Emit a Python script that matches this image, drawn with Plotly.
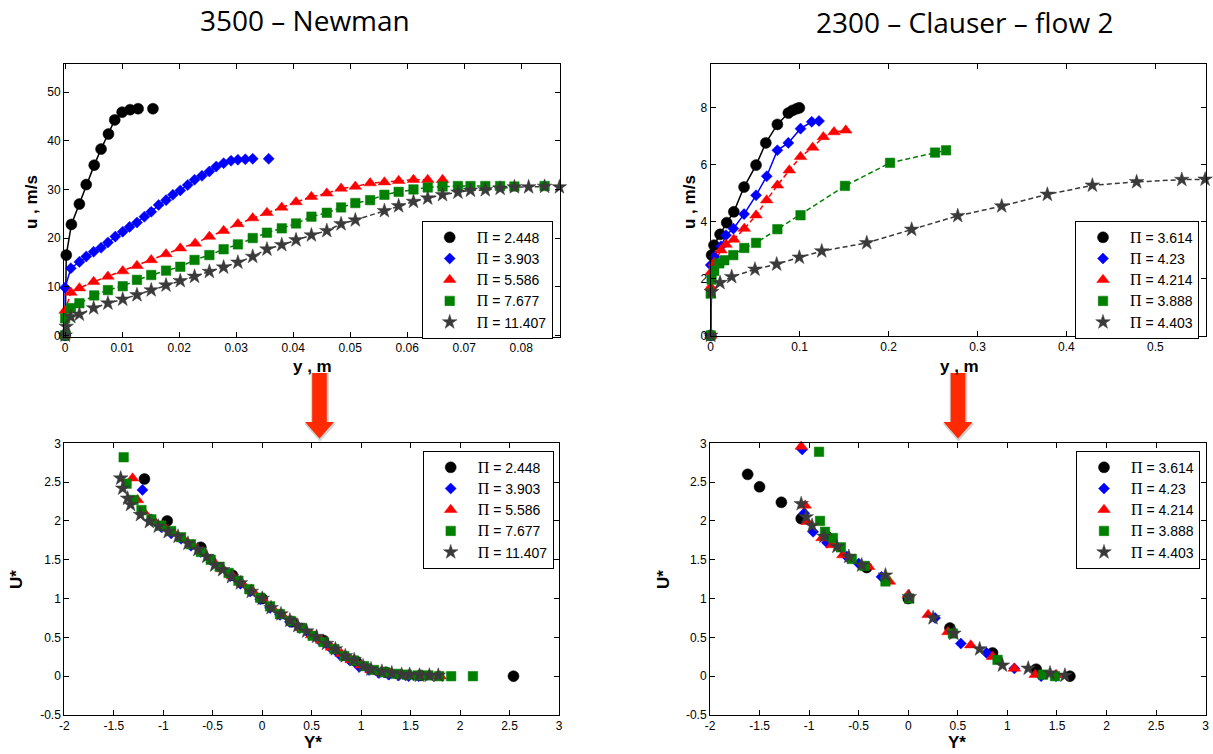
import plotly.graph_objects as go

W, H = 1213, 754

# ---------------- data ----------------
# legend values
pi_newman = ["2.448", "3.903", "5.586", "7.677", "11.407"]
pi_clauser = ["3.614", "4.23", "4.214", "3.888", "4.403"]

# top-left: 3500 - Newman, y [m] vs u [m/s]
newman_y_1 = [0, 0.0002, 0.0011, 0.0025, 0.0037, 0.0051, 0.0063, 0.0076, 0.0087, 0.0100, 0.0114, 0.0128, 0.0154]
newman_u_1 = [0, 16.5, 22.8, 27.0, 31.0, 35.0, 38.3, 41.4, 44.3, 45.9, 46.4, 46.6, 46.6]
newman_y_2 = [0, 0, 0.0010, 0.0025, 0.0037, 0.0050, 0.0063, 0.0075, 0.0088, 0.0101, 0.0113, 0.0126, 0.0139, 0.0151,
              0.0164, 0.0177, 0.0189, 0.0202, 0.0215, 0.0227, 0.0240, 0.0253, 0.0265, 0.0278, 0.0291, 0.0303, 0.0316,
              0.0329, 0.0357]
newman_u_2 = [0, 9.8, 13.8, 15.1, 16.2, 17.2, 18.0, 19.1, 20.3, 21.3, 22.3, 23.2, 24.4, 25.4, 26.8, 27.8, 28.9, 29.8,
              30.9, 32.0, 32.8, 33.7, 34.7, 35.4, 35.9, 36.1, 36.2, 36.3, 36.3]
newman_y_3 = [0, 0, 0.0010, 0.0025, 0.0050, 0.0075, 0.0101, 0.0126, 0.0151, 0.0177, 0.0202, 0.0228, 0.0253, 0.0278,
              0.0303, 0.0329, 0.0354, 0.0380, 0.0405, 0.0432, 0.0459, 0.0484, 0.0509, 0.0535, 0.0560, 0.0585, 0.0611,
              0.0636, 0.0662]
newman_u_3 = [0, 5.1, 8.8, 9.7, 11.0, 12.1, 13.2, 14.3, 15.5, 16.7, 17.9, 18.9, 20.3, 21.5, 22.9, 24.1, 25.2, 26.3,
              27.4, 28.5, 29.2, 30.2, 30.6, 31.3, 31.5, 31.8, 32.0, 32.0, 32.0]
newman_y_4 = [0, 0, 0.0010, 0.0025, 0.0051, 0.0075, 0.0101, 0.0126, 0.0151, 0.0177, 0.0202, 0.0227, 0.0253, 0.0278,
              0.0303, 0.0329, 0.0354, 0.0380, 0.0405, 0.0432, 0.0459, 0.0484, 0.0509, 0.0535, 0.0560, 0.0585, 0.0611,
              0.0636, 0.0662, 0.0689, 0.0711, 0.0737, 0.0763, 0.0788, 0.0841]
newman_u_4 = [0, 3.5, 5.6, 6.6, 8.2, 9.3, 10.1, 11.4, 12.4, 13.3, 14.1, 15.5, 16.5, 17.7, 18.7, 20.0, 21.1, 22.0, 23.0,
              24.4, 25.2, 26.3, 27.2, 27.8, 28.9, 29.5, 30.0, 30.4, 30.6, 30.7, 30.7, 30.7, 30.7, 30.6, 30.7]
newman_y_5 = [0, 0.0002, 0.0010, 0.0025, 0.0050, 0.0075, 0.0101, 0.0126, 0.0151, 0.0177, 0.0202, 0.0227, 0.0253,
              0.0278, 0.0303, 0.0329, 0.0354, 0.0380, 0.0405, 0.0432, 0.0459, 0.0484, 0.0509, 0.0560, 0.0585, 0.0611,
              0.0636, 0.0662, 0.0689, 0.0711, 0.0737, 0.0763, 0.0788, 0.0813, 0.0841, 0.0867]
newman_u_5 = [0, 1.8, 3.8, 4.3, 5.6, 6.6, 7.4, 8.3, 9.3, 10.3, 11.2, 12.1, 13.1, 14.0, 15.0, 16.2, 17.7, 18.6, 19.6,
              20.6, 21.5, 22.9, 23.7, 25.6, 26.6, 27.5, 28.2, 28.9, 29.4, 29.8, 29.9, 30.2, 30.5, 30.5, 30.6, 30.5]

# top-right: 2300 - Clauser - flow 2
clauser_y_1 = [0, 0.001, 0.0037, 0.0105, 0.018, 0.026, 0.0375, 0.051, 0.062, 0.075, 0.0873, 0.092, 0.0967, 0.0997]
clauser_u_1 = [0, 2.82, 3.17, 3.55, 3.96, 4.34, 5.21, 5.98, 6.76, 7.41, 7.81, 7.90, 7.96, 7.99]
clauser_y_2 = [0, 0, 0.004, 0.0116, 0.0172, 0.0255, 0.0375, 0.051, 0.063, 0.075, 0.0873, 0.101, 0.1136, 0.1218]
clauser_u_2 = [0, 2.47, 2.76, 3.13, 3.52, 3.75, 4.26, 4.92, 5.59, 6.50, 6.76, 7.26, 7.50, 7.53]
clauser_y_3 = [0, 0, 0.0005, 0.004, 0.0116, 0.0172, 0.026, 0.0378, 0.051, 0.063, 0.075, 0.0884, 0.101, 0.1147,
               0.1267, 0.1387, 0.1519]
clauser_u_3 = [0, 1.70, 2.23, 2.55, 2.99, 3.19, 3.37, 3.75, 4.22, 4.75, 5.27, 5.80, 6.27, 6.60, 6.97, 7.14, 7.20]
clauser_y_4 = [0, 0, 0.001, 0.004, 0.0097, 0.0153, 0.0254, 0.0378, 0.051, 0.075, 0.101, 0.151, 0.2017, 0.2523, 0.2647]
clauser_u_4 = [0, 1.47, 1.96, 2.27, 2.53, 2.64, 2.82, 3.07, 3.25, 3.73, 4.22, 5.25, 6.06, 6.42, 6.50]
clauser_y_5 = [0, 0.001, 0.0105, 0.0236, 0.0498, 0.0742, 0.0997, 0.1249, 0.1755, 0.226, 0.2778, 0.3273, 0.3786,
               0.4292, 0.479, 0.5298, 0.556]
clauser_u_5 = [0, 1.53, 1.85, 2.06, 2.32, 2.50, 2.74, 2.96, 3.25, 3.72, 4.20, 4.54, 4.95, 5.27, 5.39, 5.47, 5.48]

# bottom-left: Newman scaled, Y* vs U*
newman_Ys_1 = [-1.19, -0.96, -0.62, -0.30, 0.0, 0.30, 0.62, 0.95, 1.25, 1.60, 2.54]
newman_Us_1 = [2.54, 2.00, 1.66, 1.30, 1.00, 0.70, 0.46, 0.19, 0.05, 0.01, 0.0]
newman_Ys_2 = [-1.21, -1.12, -1.02, -0.92, -0.82, -0.72, -0.62, -0.52, -0.42, -0.32, -0.22, -0.12, -0.02, 0.08, 0.18,
               0.28, 0.38, 0.48, 0.58, 0.68, 0.78, 0.88, 0.98, 1.08, 1.18, 1.28, 1.38, 1.48, 1.58]
newman_Us_2 = [2.40, 2.02, 1.92, 1.84, 1.77, 1.68, 1.60, 1.50, 1.40, 1.29, 1.19, 1.09, 0.99, 0.88, 0.79, 0.70, 0.62,
               0.54, 0.46, 0.38, 0.28, 0.21, 0.12, 0.08, 0.04, 0.02, 0.01, 0.0, 0.0]
newman_Ys_3 = [-1.31, -1.26, -1.20, -1.10, -1.00, -0.90, -0.80, -0.70, -0.60, -0.50, -0.40, -0.30, -0.20, -0.10, 0.0,
               0.10, 0.20, 0.30, 0.40, 0.50, 0.60, 0.70, 0.80, 0.90, 1.00, 1.10, 1.20, 1.30, 1.40, 1.50, 1.60, 1.70,
               1.80]
newman_Us_3 = [2.55, 2.27, 2.12, 2.01, 1.94, 1.85, 1.77, 1.69, 1.60, 1.49, 1.38, 1.29, 1.19, 1.10, 1.00, 0.88, 0.79,
               0.71, 0.62, 0.53, 0.46, 0.37, 0.29, 0.21, 0.14, 0.08, 0.05, 0.03, 0.02, 0.01, 0.01, 0.0, 0.0]
newman_Ys_4 = [-1.40, -1.37, -1.30, -1.22, -1.12, -1.02, -0.92, -0.82, -0.72, -0.62, -0.52, -0.43, -0.34, -0.24,
               -0.13, -0.02, 0.08, 0.18, 0.29, 0.40, 0.51, 0.62, 0.73, 0.83, 0.93, 1.03, 1.13, 1.24, 1.35, 1.46,
               1.57, 1.68, 1.79, 1.91, 2.13]
newman_Us_4 = [2.82, 2.48, 2.27, 2.14, 2.02, 1.94, 1.87, 1.79, 1.70, 1.60, 1.50, 1.41, 1.33, 1.23, 1.12, 1.01, 0.90,
               0.80, 0.71, 0.62, 0.52, 0.44, 0.35, 0.26, 0.20, 0.13, 0.08, 0.05, 0.03, 0.02, 0.01, 0.01, 0.0, 0.0, 0.0]
newman_Ys_5 = [-1.43, -1.41, -1.36, -1.33, -1.23, -1.14, -1.05, -0.95, -0.85, -0.75, -0.65, -0.56, -0.48, -0.40,
               -0.31, -0.22, -0.11, 0.0, 0.09, 0.19, 0.28, 0.36, 0.45, 0.55, 0.65, 0.74, 0.84, 0.93, 1.02, 1.10,
               1.21, 1.31, 1.41, 1.49, 1.59, 1.69, 1.78]
newman_Us_5 = [2.55, 2.42, 2.29, 2.21, 2.08, 1.99, 1.93, 1.86, 1.80, 1.71, 1.63, 1.54, 1.43, 1.37, 1.28, 1.20, 1.09,
               1.00, 0.88, 0.80, 0.72, 0.65, 0.58, 0.51, 0.42, 0.35, 0.26, 0.21, 0.13, 0.09, 0.06, 0.04, 0.02, 0.02,
               0.01, 0.01, 0.01]

# bottom-right: Clauser scaled
clauser_Ys_1 = [-1.62, -1.50, -1.28, -1.08, -0.82, -0.42, 0.0, 0.42, 0.85, 1.29, 1.63]
clauser_Us_1 = [2.60, 2.44, 2.24, 2.03, 1.80, 1.40, 1.00, 0.62, 0.30, 0.09, 0.0]
clauser_Ys_2 = [-1.07, -1.05, -0.96, -0.82, -0.62, -0.50, -0.27, 0.0, 0.27, 0.53, 0.79, 1.07, 1.34, 1.49]
clauser_Us_2 = [2.92, 2.10, 1.86, 1.72, 1.54, 1.45, 1.28, 1.02, 0.75, 0.42, 0.30, 0.10, 0.0, 0.0]
clauser_Ys_3 = [-1.08, -1.04, -1.02, -0.87, -0.77, -0.66, -0.40, -0.19, 0.0, 0.20, 0.40, 0.63, 0.85, 1.07, 1.28, 1.49]
clauser_Us_3 = [2.96, 2.20, 1.99, 1.78, 1.69, 1.56, 1.41, 1.22, 1.05, 0.79, 0.57, 0.40, 0.25, 0.10, 0.02, 0.02]
clauser_Ys_4 = [-0.90, -0.89, -0.84, -0.76, -0.68, -0.57, -0.44, -0.23, 0.01, 0.45, 0.90, 1.36, 1.48]
clauser_Us_4 = [2.89, 2.00, 1.86, 1.78, 1.66, 1.51, 1.42, 1.22, 1.00, 0.55, 0.21, 0.02, 0.0]
clauser_Ys_5 = [-1.08, -1.03, -0.97, -0.85, -0.72, -0.60, -0.47, -0.23, 0.01, 0.25, 0.46, 0.72, 0.95, 1.21, 1.43, 1.58]
clauser_Us_5 = [2.22, 2.05, 1.94, 1.80, 1.67, 1.54, 1.43, 1.30, 1.02, 0.75, 0.55, 0.35, 0.14, 0.10, 0.04, 0.01]

# tick labels
tl_xticks = [0, 0.01, 0.02, 0.03, 0.04, 0.05, 0.06, 0.07, 0.08]
tl_xlabels = ["0", "0.01", "0.02", "0.03", "0.04", "0.05", "0.06", "0.07", "0.08"]
tl_yticks = [0, 10, 20, 30, 40, 50]
tr_xticks = [0, 0.1, 0.2, 0.3, 0.4, 0.5]
tr_xlabels = ["0", "0.1", "0.2", "0.3", "0.4", "0.5"]
tr_yticks = [0, 2, 4, 6, 8]
b_xticks = [-2, -1.5, -1, -0.5, 0, 0.5, 1, 1.5, 2, 2.5, 3]
b_xlabels = ["-2", "-1.5", "-1", "-0.5", "0", "0.5", "1", "1.5", "2", "2.5", "3"]
b_yticks = [-0.5, 0, 0.5, 1, 1.5, 2, 2.5, 3]
b_ylabels = ["-0.5", "0", "0.5", "1", "1.5", "2", "2.5", "3"]

# ---------------- styles ----------------
colors = ["#000000", "#0000ff", "#ff0000", "#007f00", "#3a3a3a"]
symbols = ["circle", "diamond", "triangle-up", "square", "star"]
sizes = [11, 8.5, 11, 9.5, 11]
tl_dash = ["solid", "solid", "5px,3px", "5px,3px", "5px,3px"]
tr_dash = ["solid", "solid", "5px,3px", "5px,3px", "5px,3px"]


def px_x(p):
    return p / W


def px_y(p):
    return 1 - p / H


def pi_name(v):
    return '<span style="font-family:Liberation Serif;font-size:16px">Π</span> = ' + v


fig = go.Figure()

panels = [
    dict(xa="x", ya="y", leg="legend",
         xs=[newman_y_1, newman_y_2, newman_y_3, newman_y_4, newman_y_5],
         ys=[newman_u_1, newman_u_2, newman_u_3, newman_u_4, newman_u_5],
         names=pi_newman, line="drop_last", dash=tl_dash),
    dict(xa="x2", ya="y2", leg="legend2",
         xs=[clauser_y_1, clauser_y_2, clauser_y_3, clauser_y_4, clauser_y_5],
         ys=[clauser_u_1, clauser_u_2, clauser_u_3, clauser_u_4, clauser_u_5],
         names=pi_clauser, line="all", dash=tr_dash),
    dict(xa="x3", ya="y3", leg="legend3",
         xs=[newman_Ys_1, newman_Ys_2, newman_Ys_3, newman_Ys_4, newman_Ys_5],
         ys=[newman_Us_1, newman_Us_2, newman_Us_3, newman_Us_4, newman_Us_5],
         names=pi_newman, line=None, dash=None),
    dict(xa="x4", ya="y4", leg="legend4",
         xs=[clauser_Ys_1, clauser_Ys_2, clauser_Ys_3, clauser_Ys_4, clauser_Ys_5],
         ys=[clauser_Us_1, clauser_Us_2, clauser_Us_3, clauser_Us_4, clauser_Us_5],
         names=pi_clauser, line=None, dash=None),
]

for p in panels:
    if p["line"]:
        for i in range(5):
            xv, yv = p["xs"][i], p["ys"][i]
            if p["line"] == "drop_last":
                xv, yv = xv[:-1], yv[:-1]
            fig.add_trace(go.Scatter(
                x=xv, y=yv, mode="lines", xaxis=p["xa"], yaxis=p["ya"],
                line=dict(color=colors[i], width=1.5, dash=p["dash"][i]),
                showlegend=False, hoverinfo="skip"))
    for i in range(5):
        fig.add_trace(go.Scatter(
            x=p["xs"][i], y=p["ys"][i], mode="markers", xaxis=p["xa"], yaxis=p["ya"],
            name=pi_name(p["names"][i]), legend=p["leg"], cliponaxis=False,
            marker=dict(symbol=symbols[i], color=colors[i], size=sizes[i],
                        line=dict(width=0.5, color=colors[i]))))

tickfont = dict(family="Liberation Sans, Arial, sans-serif", size=12, color="#000000")
axis_common = dict(showline=True, linecolor="#000000", linewidth=1, mirror="ticks", ticks="inside",
                   ticklen=5, tickcolor="#000000", tickwidth=1, showgrid=False, zeroline=False,
                   tickfont=tickfont, fixedrange=True, automargin=False)

doms = {
    "TL": ([px_x(64), px_x(560)], [px_y(337), px_y(64)]),
    "TR": ([px_x(710.7), px_x(1206)], [px_y(336), px_y(64)]),
    "BL": ([px_x(64.3), px_x(559)], [px_y(715), px_y(443.3)]),
    "BR": ([px_x(710), px_x(1205.7)], [px_y(715), px_y(443.3)]),
}

layout = dict(
    width=W, height=H, autosize=False,
    margin=dict(l=0, r=0, t=0, b=0, pad=0, autoexpand=False),
    paper_bgcolor="white", plot_bgcolor="white", showlegend=True,
    xaxis=dict(domain=doms["TL"][0], range=[-0.0002, 0.0868], tickvals=tl_xticks, ticktext=tl_xlabels,
               anchor="y", **axis_common),
    yaxis=dict(domain=doms["TL"][1], range=[-0.35, 55.8], tickvals=tl_yticks, anchor="x", **axis_common),
    xaxis2=dict(domain=doms["TR"][0], range=[0, 0.557], tickvals=tr_xticks, ticktext=tr_xlabels,
                anchor="y2", **axis_common),
    yaxis2=dict(domain=doms["TR"][1], range=[-0.02, 9.53], tickvals=tr_yticks, anchor="x2", **axis_common),
    xaxis3=dict(domain=doms["BL"][0], range=[-2, 3], tickvals=b_xticks, ticktext=b_xlabels,
                anchor="y3", **axis_common),
    yaxis3=dict(domain=doms["BL"][1], range=[-0.5, 3], tickvals=b_yticks, ticktext=b_ylabels,
                anchor="x3", **axis_common),
    xaxis4=dict(domain=doms["BR"][0], range=[-2, 3], tickvals=b_xticks, ticktext=b_xlabels,
                anchor="y4", **axis_common),
    yaxis4=dict(domain=doms["BR"][1], range=[-0.5, 3], tickvals=b_yticks, ticktext=b_ylabels,
                anchor="x4", **axis_common),
)

legfont = dict(family="Liberation Sans, Arial, sans-serif", size=14, color="#000000")
leg_common = dict(bgcolor="white", bordercolor="#000000", borderwidth=1, font=legfont,
                  xanchor="left", yanchor="top", itemwidth=44, tracegroupgap=0)
layout["legend"] = dict(x=px_x(421.7), y=px_y(220.7), **leg_common)
layout["legend2"] = dict(x=px_x(1075), y=px_y(220.7), **leg_common)
layout["legend3"] = dict(x=px_x(422.7), y=px_y(450.7), **leg_common)
layout["legend4"] = dict(x=px_x(1076), y=px_y(450.7), **leg_common)

fig.update_layout(**layout)

# ---------------- text ----------------
ann = []
title_font = dict(family="Open Sans, sans-serif", size=28, color="#000000")
ann.append(dict(text="3500 – Newman", x=px_x(305), y=px_y(20), xref="paper", yref="paper",
                showarrow=False, xanchor="center", yanchor="middle", font=title_font))
ann.append(dict(text="2300 – Clauser – flow 2", x=px_x(964), y=px_y(22), xref="paper", yref="paper",
                showarrow=False, xanchor="center", yanchor="middle", font=title_font))

lab_font = dict(family="Liberation Sans, Arial, sans-serif", size=17, color="#000000")
labels = [
    ("<b>u , m/s</b>", 31, 202, -90),
    ("<b>u , m/s</b>", 689, 202, -90),
    ("<b>y , m</b>", 312, 366, 0),
    ("<b>y , m</b>", 959, 366, 0),
    ("<b>U*</b>", 16, 580, -90),
    ("<b>U*</b>", 663, 580, -90),
    ("<b>Y*</b>", 313, 742, 0),
    ("<b>Y*</b>", 957, 742, 0),
]
for t, x, y, a in labels:
    ann.append(dict(text=t, x=px_x(x), y=px_y(y), xref="paper", yref="paper", showarrow=False,
                    xanchor="center", yanchor="middle", textangle=a, font=lab_font))
fig.update_layout(annotations=ann)


# ---------------- arrows ----------------
def arrow_path(cx, top, neck, tip, hw, hh, dx=0.0, dy=0.0, grow=0.0):
    pts = [(cx - hw - grow, top - grow), (cx + hw + grow, top - grow), (cx + hw + grow, neck),
           (cx + hh + grow, neck), (cx, tip + grow), (cx - hh - grow, neck), (cx - hw - grow, neck)]
    s = ""
    for k, (x, y) in enumerate(pts):
        s += ("M" if k == 0 else "L") + f"{px_x(x + dx):.5f},{px_y(y + dy):.5f} "
    return s + "Z"


shapes = []
for cx in (319.5, 958):
    shapes.append(dict(type="path", xref="paper", yref="paper",
                       path=arrow_path(cx, 373, 422, 438.5, 7.3, 14.5, dx=0.5, dy=1.5, grow=1.5),
                       fillcolor="rgba(150,150,150,0.45)", line=dict(width=0), layer="above"))
    shapes.append(dict(type="path", xref="paper", yref="paper",
                       path=arrow_path(cx, 373, 422, 438.5, 7.3, 14.5),
                       fillcolor="#ff2a00", line=dict(width=0), layer="above"))
fig.update_layout(shapes=shapes)

fig.write_html("out.html", config={"responsive": False, "displayModeBar": False},
               post_script="document.body.style.margin='0px';document.body.style.overflow='hidden';")
